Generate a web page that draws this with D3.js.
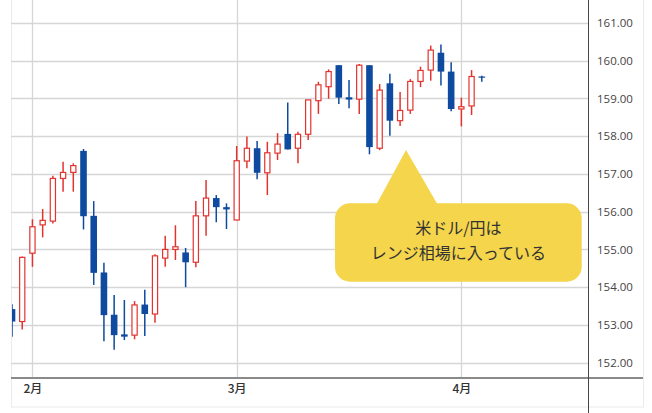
<!DOCTYPE html>
<html><head><meta charset="utf-8">
<script src="https://cdn.jsdelivr.net/npm/d3@7"></script>
<style>
html,body{margin:0;padding:0;background:#fff;}
svg{display:block;}
</style></head>
<body>
<svg id="chart" width="652" height="413"></svg>
<script>
// ---- data ----
const dates = ["1/30","1/31",
 "2/1","2/2","2/5","2/6","2/7","2/8","2/9","2/12","2/13","2/14","2/15","2/16","2/19","2/20","2/21","2/22","2/23","2/26","2/27","2/28",
 "3/1","3/2","3/5","3/6","3/7","3/8","3/9","3/12","3/13","3/14","3/15","3/16","3/19","3/20","3/21","3/22","3/23","3/26","3/27","3/28","3/29","3/30",
 "4/2","4/3","4/4"];
const open  = [153.42,153.09,154.90,155.65,155.75,156.88,157.04,157.61,155.89,154.39,153.27,152.75,152.73,153.54,153.29,154.77,155.00,154.92,154.66,155.89,156.36,156.12,155.78,157.34,157.68,157.03,157.55,158.06,157.68,158.05,158.94,159.31,159.88,159.03,158.98,159.88,157.68,159.40,158.41,158.69,159.45,159.75,160.21,159.71,158.72,158.80,159.58];
const high  = [153.55,154.81,155.80,156.07,156.95,157.32,157.28,157.66,156.28,154.65,153.79,153.66,153.63,153.93,154.87,155.36,155.64,155.04,156.28,156.84,156.44,156.22,157.74,157.99,157.87,157.85,158.08,158.89,158.12,158.96,159.44,159.77,159.88,159.49,159.91,159.88,159.38,159.65,159.17,159.51,159.84,160.40,160.43,159.96,159.02,159.75,159.60];
const low   = [152.69,152.88,154.54,155.32,155.69,156.53,156.53,155.53,154.06,152.57,152.34,152.60,152.62,152.71,153.06,154.54,154.72,154.00,154.53,155.36,155.72,155.54,155.77,157.15,156.86,156.44,157.37,157.65,157.28,157.90,158.59,158.99,158.85,158.74,158.59,157.52,157.63,158.01,158.27,158.59,159.30,159.47,159.34,158.66,158.26,158.56,159.44];
const close = [153.09,154.79,155.60,155.77,156.88,157.04,157.22,155.88,154.38,153.26,152.73,152.69,153.53,153.29,154.83,155.00,155.07,154.66,155.89,156.36,156.12,156.06,157.35,157.68,157.03,157.56,157.79,157.65,158.05,158.96,159.36,159.71,159.02,158.97,159.88,157.71,159.22,158.41,158.68,159.45,159.74,160.28,159.71,158.72,158.78,159.58,159.55];
const yTicks = [152,153,154,155,156,157,158,159,160,161];
const monthLabels = ["2月","3月","4月"];
const monthStarts = ["2/1","3/1","4/2"];
const calloutLines = ["米ドル/円は","レンジ相場に入っている"];

// ---- layout ----
const W = 652, H = 413;
const plotL = 11, plotR = 588, axisY = 378, frameR = 643, frameB = 407;
const svg = d3.select("#chart");

const x = d3.scaleLinear().domain([-0.1, 56.4]).range([plotL, plotR]);
const idx = d => dates.indexOf(d);
const y = d3.scaleLinear().domain([152, 161]).range([362.7, 22.9]);

const upColor = "#e2342f", downColor = "#0d4aa0", gridColor = "#d6d6d6";

// frame
svg.append("rect").attr("x", plotL + 0.5).attr("y", -1).attr("width", frameR - plotL).attr("height", frameB + 1)
  .attr("fill", "#fff").attr("stroke", "#ebebeb").attr("stroke-width", 1);

// clip
svg.append("defs").append("clipPath").attr("id", "plotclip")
  .append("rect").attr("x", plotL + 1).attr("y", 0).attr("width", plotR - plotL - 1).attr("height", axisY);

// horizontal grid
svg.append("g").selectAll("line").data(yTicks).join("line")
  .attr("x1", plotL).attr("x2", plotR)
  .attr("y1", d => Math.round(y(d)) + 0.5).attr("y2", d => Math.round(y(d)) + 0.5)
  .attr("stroke", gridColor).attr("stroke-width", 1.3);

// vertical grid at month starts
svg.append("g").selectAll("line").data(monthStarts).join("line")
  .attr("x1", d => Math.round(x(idx(d))) + 0.5).attr("x2", d => Math.round(x(idx(d))) + 0.5)
  .attr("y1", 0).attr("y2", axisY)
  .attr("stroke", gridColor).attr("stroke-width", 1.3);

// candles
const data = dates.map((d, i) => ({d, i, o: open[i], h: high[i], l: low[i], c: close[i]}));
const g = svg.append("g").attr("clip-path", "url(#plotclip)");
const cg = g.selectAll("g.c").data(data).join("g").attr("class", "c");
cg.append("line")
  .attr("x1", d => x(d.i)).attr("x2", d => x(d.i))
  .attr("y1", d => y(d.h)).attr("y2", d => y(d.l))
  .attr("stroke", d => d.c >= d.o ? upColor : downColor).attr("stroke-width", 1.5);
cg.append("rect")
  .attr("x", d => d.c >= d.o ? x(d.i) - 2.6 : x(d.i) - 3.3)
  .attr("width", d => d.c >= d.o ? 5.2 : 6.6)
  .attr("y", d => y(Math.max(d.o, d.c)) + (d.c >= d.o ? 0 : 0))
  .attr("height", d => Math.max(1.2, Math.abs(y(d.o) - y(d.c))))
  .attr("fill", d => d.c >= d.o ? "#fff" : downColor)
  .attr("stroke", d => d.c >= d.o ? upColor : "none")
  .attr("stroke-width", 1.2);

// axes lines
svg.append("line").attr("x1", plotL).attr("x2", frameR).attr("y1", axisY).attr("y2", axisY)
  .attr("stroke", "#8a8a8a").attr("stroke-width", 2);
svg.append("line").attr("x1", plotR + 0.5).attr("x2", plotR + 0.5).attr("y1", 0).attr("y2", H)
  .attr("stroke", "#444").attr("stroke-width", 1);

// y axis labels
const yAxis = d3.axisRight(y).tickValues(yTicks).tickSize(0).tickPadding(0).tickFormat(d3.format(".2f"));
const ya = svg.append("g").attr("transform", `translate(${plotR + 9},0)`).call(yAxis);
ya.select(".domain").remove();
ya.selectAll("text").attr("font-family", "'Open Sans', 'Noto Sans', sans-serif").attr("font-size", 11.5).attr("fill", "#444");

// x axis month labels
const xAxis = d3.axisBottom(x).tickValues(monthStarts.map(idx)).tickSize(0).tickPadding(0)
  .tickFormat((d, i) => monthLabels[i]);
const xa = svg.append("g").attr("transform", `translate(0,${axisY + 6})`).call(xAxis);
xa.select(".domain").remove();
xa.selectAll("text").attr("font-family", "'Noto Sans CJK JP', sans-serif").attr("font-size", 12).attr("font-weight", 500).attr("fill", "#333");

// callout
const callout = svg.append("g");
callout.append("path").attr("d", "M376.7,204 L406,150 L437.3,204 Z").attr("fill", "#f5d54b");
callout.append("rect").attr("x", 335).attr("y", 203.3).attr("width", 246.7).attr("height", 78.4).attr("rx", 15)
  .attr("fill", "#f5d54b");
callout.selectAll("text").data(calloutLines).join("text")
  .attr("x", 458.3).attr("y", (d, i) => 234 + i * 24.5)
  .attr("text-anchor", "middle")
  .attr("font-family", "'Noto Sans CJK JP', sans-serif").attr("font-size", 16)
  .attr("fill", "#333").text(d => d);
</script>
</body></html>
